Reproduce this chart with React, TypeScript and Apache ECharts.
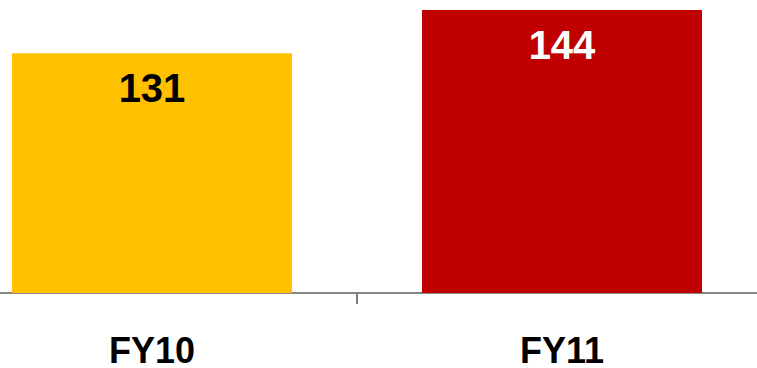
import React, { useEffect, useRef } from "react";
import * as echarts from "echarts";

const categories = ["FY10", "FY11"];
const values = [131, 144];
const barColors = ["#FFC000", "#C00000"];
const labelColors = ["#000000", "#FFFFFF"];

export default function App() {
  const ref = useRef<HTMLDivElement>(null);
  useEffect(() => {
    if (!ref.current) return;
    const chart = echarts.init(ref.current, null, { renderer: "svg" });
    chart.setOption({
      animation: false,
      grid: { left: 0, right: 0, top: 0, bottom: 70, containLabel: false },
      xAxis: {
        type: "category",
        data: categories,
        boundaryGap: true,
        axisLine: { show: true, onZero: false, lineStyle: { color: "#868686", width: 2 } },
        axisTick: { show: true, interval: 0, length: 11, lineStyle: { color: "#7f7f7f", width: 2 } },
        axisLabel: {
          margin: 57,
          fontSize: 36,
          lineHeight: 26,
          verticalAlign: "middle",
          fontWeight: "bold",
          color: "#000000",
          fontFamily: "Liberation Sans, Arial, sans-serif",
        },
      },
      yAxis: {
        type: "value",
        min: 59,
        max: 147,
        show: false,
        splitLine: { show: false },
      },
      series: [
        {
          type: "bar",
          barWidth: 280,
          data: values.map((v, i) => ({
            value: v,
            itemStyle: { color: barColors[i] },
            label: { color: labelColors[i] },
          })),
          label: {
            show: true,
            position: "insideTop",
            distance: 15,
            fontSize: 40,
            fontWeight: "bold",
            fontFamily: "Liberation Sans, Arial, sans-serif",
          },
        },
      ],
    });
    return () => chart.dispose();
  }, []);
  return (
    <div style={{ position: "fixed", left: 0, top: 0, width: 757, height: 368, overflow: "hidden", background: "#fff" }}>
      <div ref={ref} style={{ position: "absolute", left: -53, top: 0, width: 820, height: 368 }} />
    </div>
  );
}
